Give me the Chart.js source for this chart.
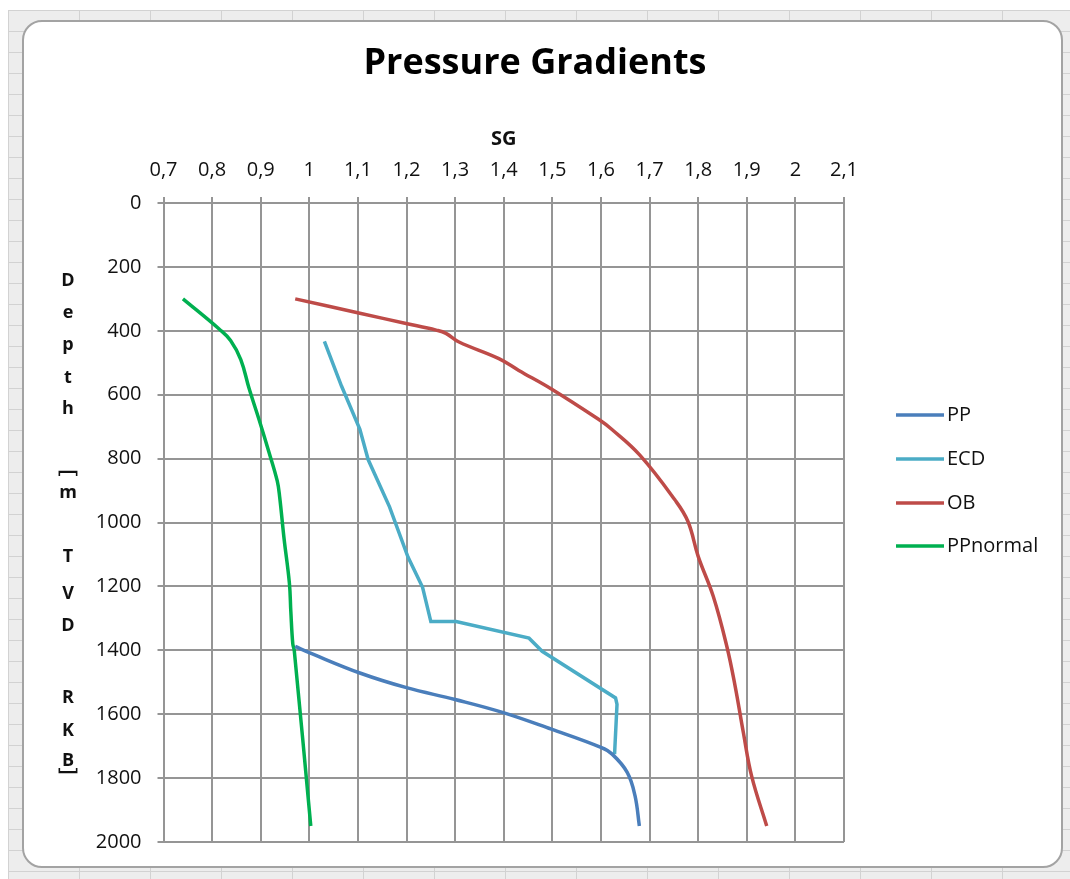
<!DOCTYPE html>
<html>
<head>
<meta charset="utf-8">
<title>Pressure Gradients</title>
<script src="https://cdn.jsdelivr.net/npm/chart.js@4.4.1/dist/chart.umd.min.js"></script>
<style>
  html, body { margin: 0; padding: 0; background: #fff; }
  #sheet {
    position: absolute; left: 8px; top: 10px; width: 1062px; height: 869px;
    background-color: #ededed;
    background-image: linear-gradient(to right, #d2d2d2 1px, transparent 1px),
                      linear-gradient(to bottom, #d2d2d2 1px, transparent 1px);
    background-size: 71px 100%, 100% 21px;
  }
  #frame {
    position: absolute; left: 22px; top: 20px; width: 1037px; height: 844px;
    background: #fff; border: 2px solid #a3a3a3; border-radius: 20px;
  }
  #myChart { position: absolute; left: 0; top: 0; }
</style>
</head>
<body>
<div id="sheet"></div>
<div id="frame"></div>
<canvas id="myChart" width="1070" height="879"></canvas>
<script>
// axis ticks
const sgTicks = [0.7, 0.8, 0.9, 1.0, 1.1, 1.2, 1.3, 1.4, 1.5, 1.6, 1.7, 1.8, 1.9, 2.0, 2.1]
const depthTicks = [0, 200, 400, 600, 800, 1000, 1200, 1400, 1600, 1800, 2000]

// series (SG vs depth in m)
const ppSG = [0.971, 1.001, 1.104, 1.20, 1.30, 1.399, 1.498, 1.60, 1.623, 1.654, 1.670, 1.679]
const ppDepth = [1388, 1408, 1471, 1517, 1554, 1595, 1647, 1704, 1725, 1782, 1855, 1950]

const ecdSG = [1.031, 1.066, 1.104, 1.121, 1.165, 1.203, 1.233, 1.25, 1.302, 1.452, 1.479, 1.63, 1.633, 1.628]
const ecdDepth = [433, 572, 708, 803, 951, 1108, 1203, 1310, 1310, 1362, 1403, 1549, 1569, 1725]

const obSG = [0.971, 1.104, 1.199, 1.261, 1.281, 1.308, 1.39, 1.431, 1.498, 1.595, 1.622, 1.68, 1.752, 1.779, 1.80, 1.831, 1.859, 1.876, 1.893, 1.91, 1.941]
const obDepth = [300, 345, 377, 398, 408, 435, 487, 524, 582, 677, 708, 789, 929, 997, 1106, 1231, 1388, 1512, 1658, 1794, 1950]

const normSG = [0.74, 0.815, 0.838, 0.859, 0.876, 0.897, 0.917, 0.934, 0.939, 0.948, 0.959, 0.962, 0.966, 0.969, 1.003]
const normDepth = [300, 395, 430, 490, 580, 680, 780, 870, 920, 1050, 1190, 1280, 1380, 1400, 1950]

const seriesNames = ['PP', 'ECD', 'OB', 'PPnormal']
const seriesColors = ['#4a7ebb', '#4bacc6', '#be4b48', '#00b050']

const FONT = "'Open Sans', 'Liberation Sans', sans-serif"

function pairs(sg, depth) {
    let out = []
    for (let k = 0; k < sg.length; k++) out.push({ x: sg[k], y: depth[k] })
    return out
}

// stacked vertical axis title + legend, drawn like the Excel sheet
const sheetBits = {
    id: 'sheetBits',
    afterDraw(chart) {
        const c = chart.ctx
        c.save()
        c.fillStyle = '#111'
        c.textAlign = 'center'
        c.textBaseline = 'alphabetic'
        // "Depth [m TVD RKB]" in Excel's stacked orientation
        const letters = ['D', 'e', 'p', 't', 'h', '\uFE47', 'm', 'T', 'V', 'D', 'R', 'K', 'B', '\uFE48']
        const ys = [286, 318, 350, 383, 414, 466, 498, 562, 599, 631, 703, 736, 766, 778]
        letters.forEach((ch, i) => {
            if (ch === '\uFE47' || ch === '\uFE48') {
                c.font = "bold 20px 'Noto Sans CJK SC', " + FONT
                c.textBaseline = 'middle'
                c.fillText(ch, 68, ys[i])
                c.textBaseline = 'alphabetic'
            } else {
                c.font = 'bold 18px ' + FONT
                c.fillText(ch, 68, ys[i])
            }
        })

        // legend
        const rows = [415, 459, 503, 546]
        c.font = '20px ' + FONT
        c.textAlign = 'left'
        c.textBaseline = 'middle'
        chart.data.datasets.forEach((ds, i) => {
            c.strokeStyle = ds.borderColor
            c.lineWidth = 3.5
            c.beginPath()
            c.moveTo(896, rows[i])
            c.lineTo(944, rows[i])
            c.stroke()
            c.fillStyle = '#111'
            c.fillText(ds.label, 947, rows[i])
        })
        c.restore()
    }
}

const data = {
    datasets: [
        { label: seriesNames[0], data: pairs(ppSG, ppDepth), borderColor: seriesColors[0], tension: 0.4 },
        { label: seriesNames[1], data: pairs(ecdSG, ecdDepth), borderColor: seriesColors[1], tension: 0 },
        { label: seriesNames[2], data: pairs(obSG, obDepth), borderColor: seriesColors[2], tension: 0.4 },
        { label: seriesNames[3], data: pairs(normSG, normDepth), borderColor: seriesColors[3], tension: 0.4 }
    ]
}
data.datasets.forEach(ds => {
    ds.borderWidth = 3.5
    ds.pointRadius = 0
    ds.fill = false
    ds.backgroundColor = ds.borderColor
})

const gridStyle = { color: '#959595', lineWidth: 2, tickLength: 6 }

const config = {
    type: 'line',
    data: data,
    options: {
        responsive: false,
        animation: false,
        layout: { padding: { left: 0, top: 0, right: 0, bottom: 37 } },
        plugins: {
            legend: { display: false },
            tooltip: { enabled: false },
            title: {
                display: true,
                text: 'Pressure Gradients',
                color: '#000',
                font: { family: FONT, size: 36, weight: 'bold' },
                padding: { top: 42, bottom: 0 }
            }
        },
        scales: {
            x: {
                type: 'linear',
                position: 'top',
                min: 0.7,
                max: 2.1,
                afterBuildTicks: s => { s.ticks = sgTicks.map(v => ({ value: v })) },
                afterFit: s => { s.height = 117.8 },
                grid: gridStyle,
                border: { color: '#959595', width: 2 },
                ticks: {
                    color: '#111',
                    padding: 15,
                    maxRotation: 0,
                    font: { family: FONT, size: 20 },
                    callback: v => String(+v.toFixed(1)).replace('.', ',')
                },
                title: {
                    display: true,
                    text: 'SG',
                    color: '#111',
                    font: { family: FONT, size: 20, weight: 'bold' },
                    padding: { top: 42, bottom: 0 }
                }
            },
            y: {
                type: 'linear',
                reverse: true,
                min: 0,
                max: 2000,
                afterBuildTicks: s => { s.ticks = depthTicks.map(v => ({ value: v })) },
                afterFit: s => { s.width = 163.5 },
                grid: gridStyle,
                border: { color: '#959595', width: 2 },
                ticks: {
                    color: '#111',
                    padding: 16,
                    font: { family: FONT, size: 20 },
                    callback: v => String(v)
                }
            },
            // empty box on the right that keeps room for the legend
            legendSpace: {
                type: 'linear',
                position: 'right',
                min: 0,
                max: 1,
                afterFit: s => { s.width = 226 },
                grid: { display: false, drawTicks: false },
                border: { display: false },
                ticks: { display: false }
            }
        }
    },
    plugins: [sheetBits]
}

const myChart = new Chart(document.querySelector('#myChart'), config)
</script>
</body>
</html>
